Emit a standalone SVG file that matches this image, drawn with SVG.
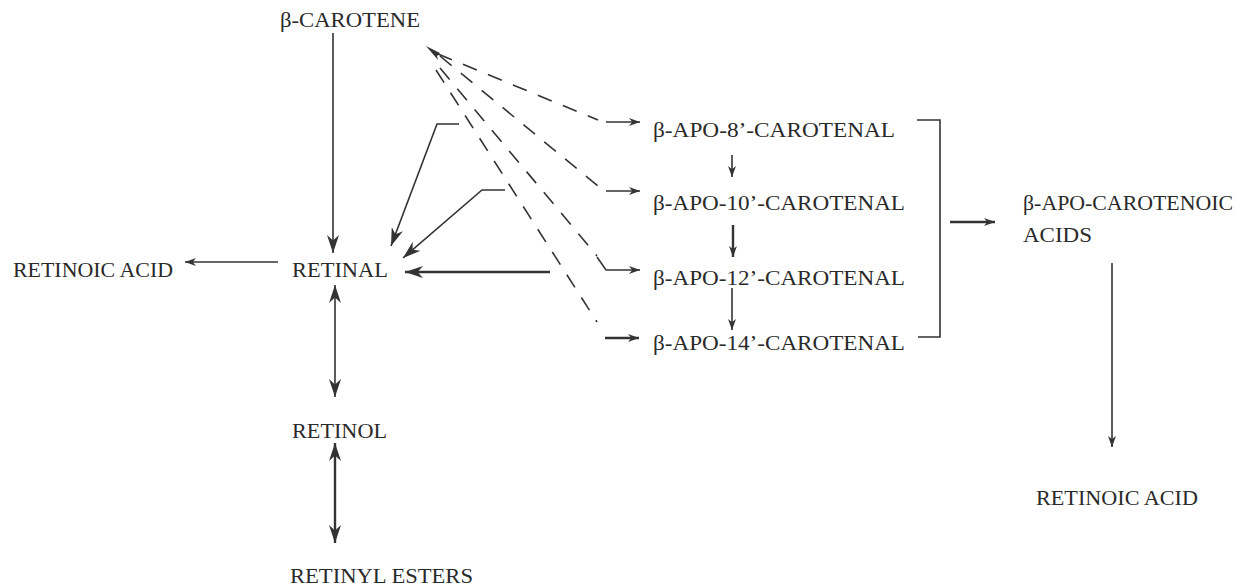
<svg xmlns="http://www.w3.org/2000/svg" width="1259" height="586" viewBox="0 0 1259 586">
<style>
text{font-family:"Liberation Serif","Times New Roman",serif;font-size:20px;fill:#2a2a2a}
.ln{fill:none;stroke:#333;stroke-width:1.6}
.thk{fill:none;stroke:#333;stroke-width:2.4}
.dash{fill:none;stroke:#333;stroke-width:1.6;stroke-dasharray:15 12}
</style>
<defs>
<marker id="ah" viewBox="0 0 10 10" refX="10" refY="5" markerUnits="userSpaceOnUse" markerWidth="11" markerHeight="8" preserveAspectRatio="none" orient="auto-start-reverse"><path d="M0,0 L10,5 L0,10 L3,5 z" fill="#333"/></marker>
<marker id="ahL" viewBox="0 0 10 10" refX="10" refY="5" markerUnits="userSpaceOnUse" markerWidth="18" markerHeight="12" preserveAspectRatio="none" orient="auto-start-reverse"><path d="M0,0 L10,5 L0,10 L3,5 z" fill="#333"/></marker>
</defs>
<g id="n-carotene"><text x="280" y="27" textLength="140" lengthAdjust="spacingAndGlyphs">β-CAROTENE</text></g>
<g id="n-ra-left"><text x="13" y="277" textLength="160" lengthAdjust="spacingAndGlyphs">RETINOIC ACID</text></g>
<g id="n-retinal"><text x="292" y="277" textLength="96" lengthAdjust="spacingAndGlyphs">RETINAL</text></g>
<g id="n-retinol"><text x="292" y="438" textLength="95" lengthAdjust="spacingAndGlyphs">RETINOL</text></g>
<g id="n-esters"><text x="290" y="583" textLength="183" lengthAdjust="spacingAndGlyphs">RETINYL ESTERS</text></g>
<g id="n-apo8"><text x="653" y="137" textLength="242" lengthAdjust="spacingAndGlyphs">β-APO-8’-CAROTENAL</text></g>
<g id="n-apo10"><text x="653" y="210" textLength="252" lengthAdjust="spacingAndGlyphs">β-APO-10’-CAROTENAL</text></g>
<g id="n-apo12"><text x="653" y="285" textLength="252" lengthAdjust="spacingAndGlyphs">β-APO-12’-CAROTENAL</text></g>
<g id="n-apo14"><text x="653" y="350" textLength="252" lengthAdjust="spacingAndGlyphs">β-APO-14’-CAROTENAL</text></g>
<g id="n-acids"><text x="1023" y="210" textLength="210" lengthAdjust="spacingAndGlyphs">β-APO-CAROTENOIC</text><text x="1023" y="242" textLength="69" lengthAdjust="spacingAndGlyphs">ACIDS</text></g>
<g id="n-ra-right"><text x="1036" y="505" textLength="162" lengthAdjust="spacingAndGlyphs">RETINOIC ACID</text></g>
<g id="connectors">
<path class="ln" d="M333 33 L333 253" marker-end="url(#ahL)"/>
<path class="ln" d="M278 262 L185 262" marker-end="url(#ah)"/>
<path class="ln" d="M335 285 L335 397" marker-start="url(#ahL)" marker-end="url(#ahL)"/>
<path class="thk" d="M335 443 L335 543" marker-start="url(#ahL)" marker-end="url(#ahL)"/>
<path class="ln" d="M459 124 L437 124 L391 246" marker-end="url(#ahL)"/>
<path class="ln" d="M505 190 L482 190 L403 258" marker-end="url(#ahL)"/>
<path class="thk" d="M550 272 L405 272" marker-end="url(#ahL)"/>
<polygon points="426,46 440,53 437,56 438,60" fill="#333"/>
<path class="dash" d="M438 54 L598 120"/>
<path class="dash" d="M440 56 L598 186"/>
<path class="dash" d="M440 68 L597 256"/>
<path class="dash" d="M436 70 L597 322"/>
<path class="ln" d="M606 122 L640 122" marker-end="url(#ah)"/>
<path class="ln" d="M606 191 L640 191" marker-end="url(#ah)"/>
<path class="ln" d="M597 257 L606 270 L640 270" marker-end="url(#ah)"/>
<path class="thk" d="M605 338 L639 338" marker-end="url(#ah)"/>
<path class="ln" d="M732 155 L732 177" marker-end="url(#ah)"/>
<path class="thk" d="M733 225 L733 257" marker-end="url(#ah)"/>
<path class="ln" d="M732 288 L732 330" marker-end="url(#ah)"/>
<path class="ln" d="M917 120 L940 120 L940 337 L918 337"/>
<path class="thk" d="M950 222 L995 222" marker-end="url(#ah)"/>
<path class="ln" d="M1112 263 L1112 447" marker-end="url(#ah)"/>
</g>
</svg>
